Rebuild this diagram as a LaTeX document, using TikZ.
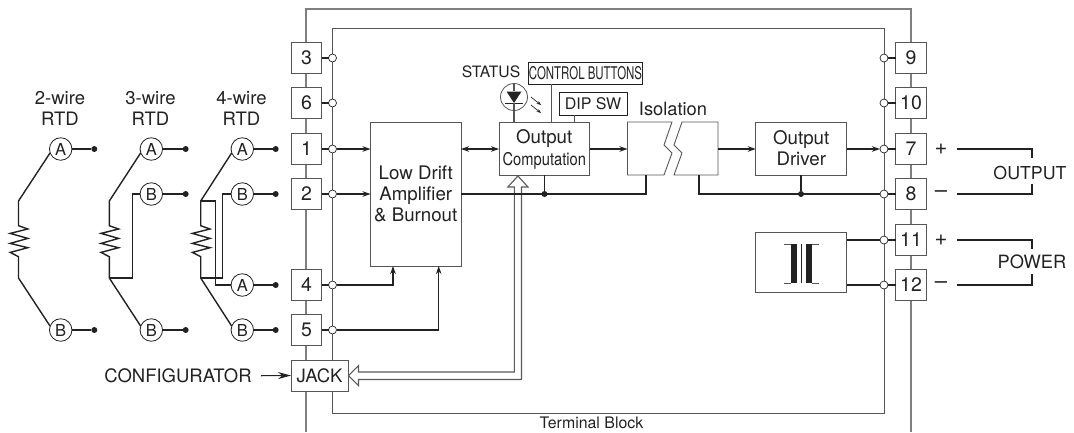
\documentclass[tikz,border=0pt]{standalone}
\usepackage{fontspec}
\setmainfont{TeX Gyre Heros}
\usetikzlibrary{arrows.meta}
\definecolor{ink}{HTML}{222222}
\definecolor{bus}{HTML}{7F7F7F}
\definecolor{edge}{HTML}{555555}
\newcommand{\fs}[1]{\fontsize{#1}{21}\selectfont}
\tikzset{
  x=1pt,y=-1pt,
  every node/.style={text=ink,inner sep=0pt,outer sep=0pt},
  term/.style={draw=edge,line width=0.9pt,fill=white,minimum width=30.5pt,minimum height=30.5pt,font=\fs{19.5}},
  block/.style={draw=edge,line width=0.9pt,fill=white,align=center,font=\fs{18.7}},
  lab/.style={font=\fs{18.5},align=center},
  rtd/.style={circle,draw=ink,line width=0.8pt,fill=white,minimum size=22.5pt,font=\fs{16.5}},
  dotn/.style={circle,fill=ink,minimum size=6pt},
  jn/.style={circle,draw=ink,line width=0.7pt,fill=white,minimum size=8pt},
  busline/.style={draw=bus,line width=1.1pt},
  thin wire/.style={draw=ink,line width=1.1pt},
  wire/.style={draw=ink,line width=1.4pt},
  sig/.style={wire,-{Stealth[length=8pt,width=5.5pt,inset=2.5pt]}},
  hollow/.style={draw=edge!85!bus,line width=1.1pt,fill=white,line join=miter},
}
\begin{document}
\begin{tikzpicture}
\useasboundingbox (0,0) rectangle (1074,432);
% buses
\coordinate (ol) at (306,432); \coordinate (olt) at (306,9);
\coordinate (ort) at (911,9); \coordinate (or) at (911,432);
\coordinate (ilb) at (332.5,413.5); \coordinate (ilt) at (332.5,28);
\coordinate (irt) at (884,28); \coordinate (irb) at (884,413.5);
\draw[busline] (ol) -- (olt) -- (ort) -- (or);
\draw[busline,draw=edge,line width=1pt] (ilb) -- (ilt) -- (irt) -- (irb) -- cycle;
% terminals
\foreach \n/\lbl/\yy in {t3/3/58,t6/6/103,t1/1/149,t2/2/194,t4/4/285,t5/5/330}
  \node[term] (\n) at (306.5,\yy) {\lbl};
\foreach \n/\lbl/\yy in {t9/9/58,t10/10/103,t7/7/149,t8/8/194,t11/11/240,t12/12/285}
  \node[term] (\n) at (911,\yy) {\lbl};
\node[term,minimum width=57pt,minimum height=31pt,font=\fs{18.5}] (jack) at (319.5,375.5) {JACK};
% junctions
\foreach \n/\yy in {j3/58,j6/103,j1/149,j2/194,j4/285,j5/330}{
  \node[jn] (\n) at (332.5,\yy) {};
}
\foreach \n/\yy in {j9/58,j10/103,j7/149,j8/194,j11/240,j12/285}{
  \node[jn] (\n) at (884,\yy) {};
}
\foreach \a/\b in {t3/j3,t6/j6,t1/j1,t2/j2,t4/j4,t5/j5,t9/j9,t10/j10,t7/j7,t8/j8,t11/j11,t12/j12}
  \draw[thin wire] (\a) -- (\b);
% hollow arrow
\draw[hollow] (514.3,187) -- (514.3,372) -- (358.5,372) -- (358.5,365.7) -- (348.5,375.7) -- (358.5,385.7) -- (358.5,379.5) -- (521.5,379.5) -- (521.5,187) -- (528,187) -- (517.9,176) -- (507.8,187) -- cycle;
% blocks
\node[block,minimum width=90.5pt,minimum height=144pt] (amp) at (415.75,194) {Low Drift\\Amplifier\\\& Burnout};
\node[block,minimum width=90.5pt,minimum height=53pt] (comp) at (544.25,148.5) {};
\node[font=\fs{18.7}] (compa) at (544.25,139) {Output};
\node[font=\fs{17.5}] (compb) at (544.25,160.5) {\scalebox{0.84}[1]{Computation}};
\node[block,minimum width=91pt,minimum height=53pt] (drv) at (801.25,148.5) {Output\\Driver};
\node[block,minimum width=91pt,minimum height=60pt] (xf) at (801.25,262) {};
\node[draw=ink,line width=0.8pt,fill=white,minimum width=113pt,minimum height=22pt] (btn) at (585.5,73) {\fs{17.5}\scalebox{0.655}[1]{CONTROL BUTTONS}};
\node[draw=ink,line width=0.8pt,fill=white,minimum width=68pt,minimum height=23pt,font=\fs{16}] (dip) at (593,103.5) {DIP SW};
\coordinate (btnb) at (551,122); \coordinate (btnt) at (551,84);
\coordinate (dipb) at (574,122); \coordinate (dipt) at (574,115);
\draw[thin wire,draw=edge,line width=0.9pt] (btnt) -- (btnb);
\draw[thin wire,draw=edge,line width=0.9pt] (dipt) -- (dipb);
% isolation
\draw[draw=edge,line width=0.9pt,fill=white] (627.5,175) -- (627.5,122) -- (672,122) -- (664,145) -- (672,153) -- (664,175) -- cycle;
\draw[draw=edge,line width=0.9pt,fill=white] (674,175) -- (682,153) -- (674,145) -- (682,122) -- (718,122) -- (718,175) -- cycle;
\node[lab,font=\fs{18.3}] (iso) at (673,109) {Isolation};
\coordinate (isoLw) at (627.5,149); \coordinate (isoRe) at (718,149);
\coordinate (isoLb) at (646,175); \coordinate (isoRb) at (699,175);
% status LED
\node[lab,font=\fs{15.7}] (status) at (491,72) {STATUS};
\node[circle,draw=edge,line width=0.8pt,minimum size=27pt] (led) at (514,97) {};
\fill[ink] (506.5,91.5) -- (521.5,91.5) -- (514,103) -- cycle;
\draw[thin wire] (505,103.5) -- (523,103.5);
\draw[thin wire,draw=edge] (led.north) -- (514,91);
\draw[thin wire,draw=edge] (514,103) -- (514,122);
\draw[ink,line width=0.7pt,-{Stealth[length=4.5pt,width=3.5pt]}] (531,97) -- (541,105);
\draw[ink,line width=0.7pt,-{Stealth[length=4.5pt,width=3.5pt]}] (531,105) -- (541,113);
% signal wires
\draw[sig] (j1.east) -- (j1.east -| amp.west);
\draw[thin wire,-{Stealth[length=8pt,width=5.5pt,inset=2.5pt]}] (j2.east) -- (j2.east -| amp.west);
\draw[thin wire,{Stealth[length=8pt,width=5.5pt,inset=2.5pt]}-{Stealth[length=8pt,width=5.5pt,inset=2.5pt]}] (amp.east |- j1) -- (comp.west |- j1);
\draw[sig] (comp.east |- isoLw) -- (isoLw);
\draw[sig] (isoRe) -- (drv.west |- isoRe);
\draw[sig] (drv.east |- j7) -- (j7.west);
\coordinate (c4) at (393,266); \coordinate (c5) at (438.7,266);
\draw[sig] (j4.east) -- (393,285) -- (c4);
\draw[sig] (j5.east) -- (438.7,330) -- (c5);
\node[dotn,minimum size=6pt] (d1) at (544.5,194) {};
\node[dotn,minimum size=6pt] (d2) at (801,194) {};
\draw[wire] (amp.east |- d1) -- (646,194) -- (isoLb);
\draw[wire] (d1) -- (d1 |- comp.south);
\draw[wire] (isoRb) -- (699,194) -- (j8.west);
\draw[wire] (d2) -- (d2 |- drv.south);
\draw[wire] (xf.east |- j11) -- (j11.west);
\draw[wire] (xf.east |- j12) -- (j12.west);
% transformer
\fill[ink] (790.7,244) rectangle (796.7,283);
\fill[ink] (806,244) rectangle (812,283);
\draw[edge,line width=1pt] (784,244) -- (791,244) (784,283) -- (791,283) (812,244) -- (819,244) (812,283) -- (819,283);
\draw[ink,line width=0.9pt] (801.7,244) -- (801.7,283);
% outputs
\node[lab,font=\fs{22}] (plus1) at (941,149) {+};
\node[lab,font=\fs{22}] (minus1) at (941,194) {\textendash};
\node[lab,font=\fs{22}] (plus2) at (941,240) {+};
\node[lab,font=\fs{22}] (minus2) at (941,285) {\textendash};
\node[lab,font=\fs{17.8}] (outl) at (1030,173) {OUTPUT};
\node[lab,font=\fs{18.3}] (powl) at (1032,262) {POWER};
\coordinate (o1) at (957,149); \coordinate (o2) at (957,194);
\coordinate (p1) at (957,240); \coordinate (p2) at (957,285);
\draw[wire] (o1) -- (1032,149) -- (1032,158);
\draw[wire] (o2) -- (1032,194) -- (1032,184);
\draw[wire] (p1) -- (1032,240) -- (1032,249);
\draw[wire] (p2) -- (1032,285) -- (1032,274);
% labels
\node[lab] (cfg) at (178,375.7) {CONFIGURATOR};
\coordinate (cfge) at (261,375.7);
\draw[ink,line width=1.1pt,-{Stealth[length=13pt,width=7pt]}] (cfge) -- (jack.west);
\node[lab,font=\fs{15.9}] (tb) at (591.5,423) {Terminal Block};
\node[lab] (w2) at (60,108) {2-wire\\RTD};
\node[lab] (w3) at (150.5,108) {3-wire\\RTD};
\node[lab] (w4) at (241.5,108) {4-wire\\RTD};
% RTD circles and dots
\foreach \n/\lbl/\xx/\yy/\dx in {
  a2/A/60.7/149/94.3, b2/B/60.7/330/94.3,
  a3/A/151.3/149/185.7, m3/B/151.3/194/185.7, b3/B/151.3/330/185.7,
  a4/A/242.3/149/275.7, m4/B/242.3/194/275.7, n4/A/242.3/285/275.7, b4/B/242.3/330/275.7}{
  \node[rtd] (\n) at (\xx,\yy) {\lbl};
  \node[dotn] (\n d) at (\dx,\yy) {};
  \draw[wire] (\n) -- (\n d);
}
% RTD resistors
\foreach \xx/\na/\nb in {18.5/a2/b2,109.3/a3/b3,200.7/a4/b4}{
  \draw[wire,line join=miter] (\na.200) -- (\xx,201) -- (\xx,225.7)
    -- ++(9.3,3.3) -- ++(-17.6,4.4) -- ++(17.6,5) -- ++(-17.6,5) -- ++(17.6,4.3) -- ++(-17.6,4.7) -- ++(8.3,4.3)
    -- (\xx,278) -- (\nb.160);
}
\draw[wire] (m3.west) -- (132.3,194) -- (132.3,278) -- (109.3,278);
\draw[wire] (m4.west) -- (222.3,194) -- (222.3,278) -- (200.7,278);
\draw[wire] (200.7,201) -- (215.3,201) -- (215.3,285) -- (n4.west);
\end{tikzpicture}
\end{document}
